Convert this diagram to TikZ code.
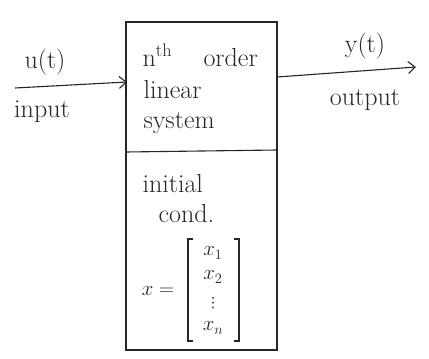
\documentclass[tikz,border=0pt]{standalone}
\usepackage{amsmath}
\usepackage{fontspec}
\newfontfamily\dvfont{DejaVu Sans}
\usetikzlibrary{arrows.meta}
\begin{document}
\begin{tikzpicture}[x=1pt,y=-1pt,
  line width=1.1pt, draw=black!85,
  lbl/.style={font=\fontsize{26}{28}\selectfont, inner sep=0pt, text=black!85},
  ent/.style={font=\fontsize{21}{23}\selectfont, inner sep=0pt, text=black!85},
  arr/.style={-{Straight Barb[length=7pt,width=12pt]}}]
\useasboundingbox (0,0) rectangle (429,359);
% box
\coordinate (tl) at (126,22);
\coordinate (br) at (277,350);
\draw (tl) rectangle (br);
\coordinate (dl) at (126,152);
\coordinate (dr) at (277,150);
\draw (dl) -- (dr);
% input / output
\coordinate (inS) at (15,88);
\coordinate (inE) at (127,82);
\coordinate (outS) at (277,77);
\coordinate (outE) at (416,67);
\draw[arr] (inS) -- (inE);
\draw[arr] (outS) -- (outE);
\node[lbl] (u) at (45,62) {u(t)};
\node[lbl] (inp) at (42,112) {input};
\node[lbl] (y) at (365,46) {y(t)};
\node[lbl] (outp) at (365,100) {output};
% upper block text
\node[lbl, anchor=base west] (nth) at (142,66) {n$^{\text{th}}$};
\node[lbl, anchor=base west] (ord) at (203,66) {order};
\node[lbl, anchor=base west] (lin) at (143,98) {linear};
\node[lbl, anchor=base west] (sys) at (143,128) {system};
% lower block text
\node[lbl, anchor=base west] (ini) at (142,192) {initial};
\node[lbl, anchor=base west] (cond) at (158,222) {cond.};
\node[ent] (xeq) at (158,291) {$x=$};
\node[ent] (x1) at (213,253) {$x_1$};
\node[ent] (x2) at (213,277) {$x_2$};
\node[ent, font=\dvfont\fontsize{14}{16}\selectfont] (xd) at (213,303) {⋮};
\node[ent] (xn) at (213,328) {$x_n$};
\coordinate (lbt) at (188,239);
\coordinate (lbb) at (188,341);
\coordinate (rbt) at (239,239);
\coordinate (rbb) at (239,341);
\draw ([xshift=5pt]lbt) -- (lbt) -- (lbb) -- ([xshift=5pt]lbb);
\draw ([xshift=-5pt]rbt) -- (rbt) -- (rbb) -- ([xshift=-5pt]rbb);
\end{tikzpicture}
\end{document}
